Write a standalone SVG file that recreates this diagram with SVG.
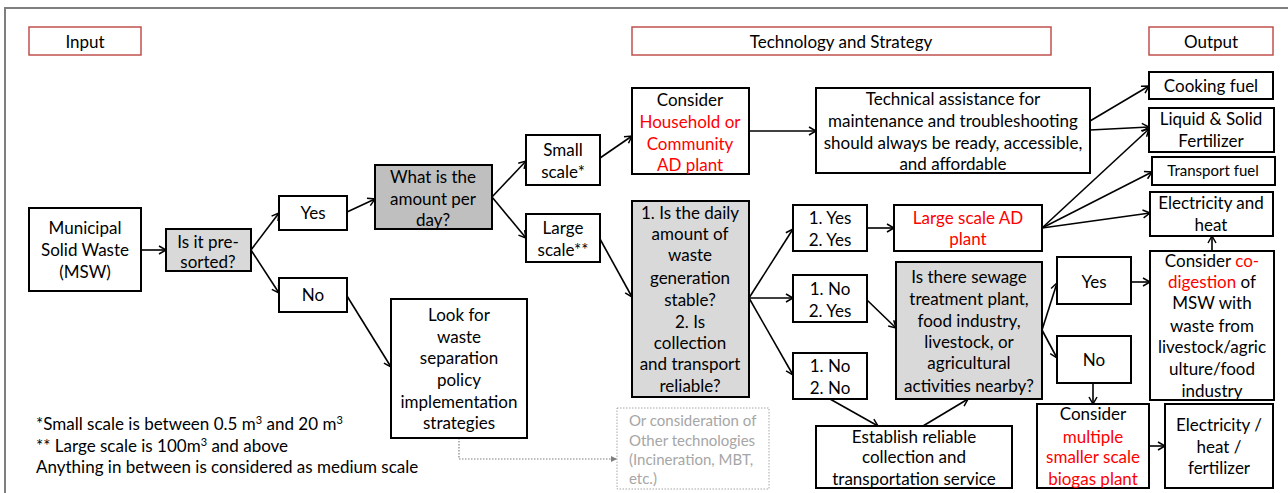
<svg xmlns="http://www.w3.org/2000/svg" width="1288" height="493" viewBox="0 0 1288 493">
<defs>
<style>
text{font-family:Lato,"Open Sans","Liberation Sans",sans-serif;font-size:17px;text-anchor:middle;fill:#000}
.b{fill:#fff;stroke:#000;stroke-width:2}
.g{fill:#d9d9d9;stroke:#000;stroke-width:2}
.g2{fill:#bfbfbf;stroke:#000;stroke-width:2}
.h{fill:#fff;stroke:#c0504d;stroke-width:1.5}
.r{fill:#ff0000}
.c line,.c path{stroke:#000;stroke-width:1.6;fill:none;marker-end:url(#ah)}
.note{text-anchor:start}
.grey{fill:#a6a6a6;text-anchor:start;font-size:15px}
</style>
<marker id="ah" markerWidth="10" markerHeight="10" refX="8" refY="5" orient="auto" markerUnits="userSpaceOnUse">
<path d="M1,1 L8,5 L1,9" fill="none" stroke="#000" stroke-width="1.5"/>
</marker>
<marker id="ag" markerWidth="8" markerHeight="8" refX="6" refY="4" orient="auto" markerUnits="userSpaceOnUse">
<path d="M0,1 L6,4 L0,7 Z" fill="#7f7f7f"/>
</marker>
</defs>
<rect width="1288" height="493" fill="#fff"/>
<path d="M5,493 V8 H1288" fill="none" stroke="#7f7f7f" stroke-width="2"/>

<g id="hdr-input"><rect class="h" x="29" y="27" width="112" height="28"/><text x="85" y="48">Input</text></g>
<g id="hdr-tech"><rect class="h" x="632" y="27" width="419" height="28"/><text x="841" y="48">Technology and Strategy</text></g>
<g id="hdr-output"><rect class="h" x="1149" y="27" width="124" height="28"/><text x="1211" y="48">Output</text></g>

<g class="c" id="connectors">
<line x1="141" y1="250" x2="166" y2="250"/>
<line x1="251" y1="250" x2="279" y2="213"/>
<line x1="251" y1="250" x2="279" y2="293"/>
<line x1="347" y1="212" x2="375" y2="199"/>
<line x1="347" y1="296" x2="391" y2="367"/>
<line x1="492" y1="197" x2="526" y2="161"/>
<line x1="492" y1="197" x2="526" y2="238"/>
<line x1="600" y1="158" x2="632" y2="136"/>
<line x1="749" y1="131" x2="816" y2="131"/>
<line x1="600" y1="239" x2="632" y2="297"/>
<line x1="749" y1="298" x2="793" y2="229"/>
<line x1="749" y1="298" x2="793" y2="298"/>
<line x1="749" y1="298" x2="793" y2="375"/>
<line x1="867" y1="228" x2="894" y2="228"/>
<line x1="867" y1="300" x2="896" y2="328"/>
<line x1="830" y1="399" x2="878" y2="426"/>
<line x1="923" y1="426" x2="968" y2="399"/>
<line x1="1042" y1="330" x2="1057" y2="283"/>
<line x1="1042" y1="330" x2="1057" y2="358"/>
<line x1="1131" y1="282" x2="1150" y2="282"/>
<line x1="1093" y1="383" x2="1093" y2="404"/>
<line x1="1149" y1="446" x2="1165" y2="446"/>
<line x1="1212" y1="251" x2="1212" y2="236"/>
<line x1="1090" y1="121" x2="1149" y2="86"/>
<line x1="1090" y1="130" x2="1149" y2="127"/>
<line x1="1042" y1="228" x2="1149" y2="129"/>
<line x1="1042" y1="228" x2="1152" y2="172"/>
<line x1="1042" y1="228" x2="1150" y2="213"/>
<path d="M459,438 V459 H617" style="stroke:#7f7f7f;stroke-width:1.2;stroke-dasharray:1.5 1.5;marker-end:url(#ag)"/>
</g>

<g id="msw"><rect class="b" x="29" y="208" width="112" height="83"/><text x="85" y="234">Municipal</text><text x="85" y="256">Solid Waste</text><text x="85" y="278">(MSW)</text></g>
<g id="presorted"><rect class="g" x="166" y="229" width="85" height="42"/><text x="208" y="248">Is it pre-</text><text x="208" y="268">sorted?</text></g>
<g id="yes1"><rect class="b" x="279" y="196" width="68" height="34"/><text x="313" y="219">Yes</text></g>
<g id="no1"><rect class="b" x="279" y="278" width="68" height="34"/><text x="313" y="301">No</text></g>
<g id="amount"><rect class="g2" x="375" y="165" width="117" height="64"/><text x="433" y="183">What is the</text><text x="433" y="205">amount per</text><text x="433" y="226">day?</text></g>
<g id="small"><rect class="b" x="526" y="135" width="74" height="50"/><text x="563" y="156">Small</text><text x="563" y="178">scale*</text></g>
<g id="large"><rect class="b" x="526" y="214" width="74" height="48"/><text x="563" y="234">Large</text><text x="563" y="256">scale**</text></g>
<g id="household"><rect class="b" x="632" y="88" width="117" height="86"/><text x="690" y="106">Consider</text><text x="690" y="128" class="r">Household or</text><text x="690" y="150" class="r">Community</text><text x="690" y="171" class="r">AD plant</text></g>
<g id="technical"><rect class="b" x="816" y="88" width="274" height="85"/><text x="953" y="105">Technical assistance for</text><text x="953" y="127">maintenance and troubleshooting</text><text x="953" y="149">should always be ready, accessible,</text><text x="953" y="170">and affordable</text></g>
<g id="stable"><rect class="g" x="632" y="201" width="117" height="196"/>
<text x="690" y="219">1. Is the daily</text><text x="690" y="240">amount of</text><text x="690" y="261">waste</text><text x="690" y="284">generation</text><text x="690" y="306">stable?</text><text x="690" y="328">2. Is</text><text x="690" y="349">collection</text><text x="690" y="370">and transport</text><text x="690" y="392">reliable?</text></g>
<g id="yy"><rect class="b" x="793" y="205" width="74" height="46"/><text x="830" y="224">1. Yes</text><text x="830" y="246">2. Yes</text></g>
<g id="ny"><rect class="b" x="793" y="275" width="74" height="47"/><text x="830" y="295">1. No</text><text x="830" y="317">2. Yes</text></g>
<g id="nn"><rect class="b" x="793" y="353" width="74" height="46"/><text x="830" y="372">1. No</text><text x="830" y="394">2. No</text></g>
<g id="largead"><rect class="b" x="894" y="205" width="148" height="46"/><text x="968" y="224" class="r">Large scale AD</text><text x="968" y="245" class="r">plant</text></g>
<g id="sewage"><rect class="g" x="896" y="262" width="146" height="137"/><text x="969" y="283">Is there sewage</text><text x="969" y="305">treatment plant,</text><text x="969" y="327">food industry,</text><text x="969" y="348">livestock, or</text><text x="969" y="369">agricultural</text><text x="969" y="392">activities nearby?</text></g>
<g id="establish"><rect class="b" x="816" y="426" width="196" height="62"/><text x="914" y="443">Establish reliable</text><text x="914" y="463">collection and</text><text x="914" y="485">transportation service</text></g>
<g id="yes2"><rect class="b" x="1057" y="257" width="74" height="47"/><text x="1094" y="288">Yes</text></g>
<g id="no2"><rect class="b" x="1057" y="336" width="74" height="47"/><text x="1094" y="366">No</text></g>
<g id="codigestion"><rect class="b" x="1150" y="251" width="124" height="149"/><text x="1212" y="267">Consider <tspan class="r">co-</tspan></text><text x="1212" y="288"><tspan class="r">digestion</tspan> of</text><text x="1212" y="309">MSW with</text><text x="1212" y="332">waste from</text><text x="1212" y="353">livestock/agric</text><text x="1212" y="375">ulture/food</text><text x="1212" y="397">industry</text></g>
<g id="multiple"><rect class="b" x="1037" y="404" width="112" height="84"/><text x="1093" y="420">Consider</text><text x="1093" y="443" class="r">multiple</text><text x="1093" y="463" class="r">smaller scale</text><text x="1093" y="485" class="r">biogas plant</text></g>
<g id="ehf"><rect class="b" x="1165" y="404" width="108" height="84"/><text x="1219" y="431">Electricity /</text><text x="1219" y="453">heat /</text><text x="1219" y="474">fertilizer</text></g>
<g id="cooking"><rect class="b" x="1149" y="72" width="124" height="27"/><text x="1211" y="92">Cooking fuel</text></g>
<g id="fertilizer"><rect class="b" x="1149" y="108" width="125" height="44"/><text x="1211" y="125">Liquid &amp; Solid</text><text x="1211" y="147">Fertilizer</text></g>
<g id="transport"><rect class="b" x="1152" y="157" width="123" height="28"/><text x="1213" y="176" style="font-size:15px">Transport fuel</text></g>
<g id="elecheat"><rect class="b" x="1150" y="192" width="123" height="44"/><text x="1211" y="209">Electricity and</text><text x="1211" y="231">heat</text></g>
<g id="lookfor"><rect class="b" x="391" y="299" width="136" height="139"/><text x="459" y="321">Look for</text><text x="459" y="343">waste</text><text x="459" y="364">separation</text><text x="459" y="386">policy</text><text x="459" y="408">implementation</text><text x="459" y="429">strategies</text></g>
<g id="othertech"><rect x="617" y="408" width="152" height="81" fill="#fff" stroke="#a6a6a6" stroke-width="1" stroke-dasharray="1.5 1.5"/><text class="grey" x="629" y="426">Or consideration of</text><text class="grey" x="629" y="446">Other technologies</text><text class="grey" x="629" y="465">(Incineration, MBT,</text><text class="grey" x="629" y="484">etc.)</text></g>

<g id="notes">
<text class="note" x="36" y="430">*Small scale is between 0.5 m<tspan dy="-6" style="font-size:11px">3</tspan><tspan dy="6"> and 20 m</tspan><tspan dy="-6" style="font-size:11px">3</tspan></text>
<text class="note" x="36" y="452">** Large scale is 100m<tspan dy="-6" style="font-size:11px">3</tspan><tspan dy="6">  and above</tspan></text>
<text class="note" x="36" y="473">Anything in between is considered as medium scale</text>
</g>
</svg>
